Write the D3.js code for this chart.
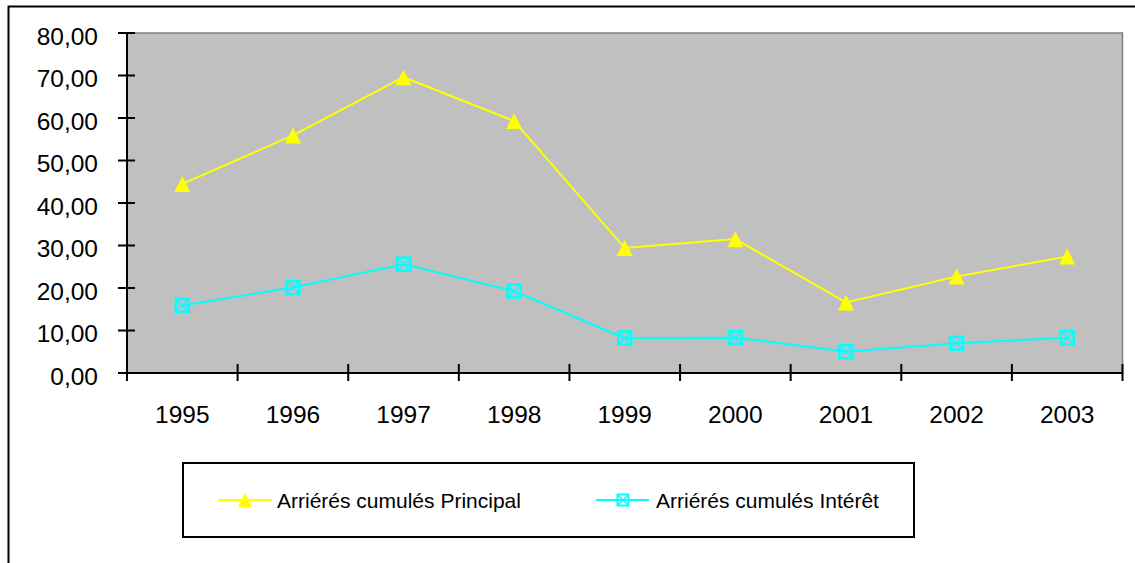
<!DOCTYPE html>
<html lang="fr">
<head>
<meta charset="utf-8">
<title>Arriérés cumulés</title>
<script src="https://cdn.jsdelivr.net/npm/d3@7"></script>
<style>
  html, body { margin: 0; padding: 0; background: #fff; }
  svg { display: block; font-family: "Liberation Sans", Arial, sans-serif; }
</style>
</head>
<body>
<script>
// data
const years = ["1995", "1996", "1997", "1998", "1999", "2000", "2001", "2002", "2003"];
const principal = [44.5, 55.9, 69.6, 59.3, 29.4, 31.5, 16.6, 22.7, 27.4];
const interet = [15.9, 20.1, 25.6, 19.3, 8.2, 8.3, 5.0, 7.0, 8.3];
const yTicks = [0, 10, 20, 30, 40, 50, 60, 70, 80];
const seriesNames = ["Arriérés cumulés Principal", "Arriérés cumulés Intérêt"];

const w = 1135, h = 563;
const plotL = 127, plotR = 1122.5, plotT = 33, plotB = 373;

const svg = d3.select("body").append("svg")
  .attr("width", w)
  .attr("height", h);

// outer chart border
svg.append("rect")
  .attr("x", 8.5).attr("y", 6.5)
  .attr("width", w + 20).attr("height", h + 20)
  .attr("fill", "#fff")
  .attr("stroke", "#000")
  .attr("stroke-width", 2);

const x = d3.scaleBand().domain(years).range([plotL, plotR]).padding(0);
const y = d3.scaleLinear().domain([0, 80]).range([plotB, plotT]);
const cx = d => x(d) + x.bandwidth() / 2;

// plot area
svg.append("rect")
  .attr("x", plotL).attr("y", plotT)
  .attr("width", plotR - plotL).attr("height", plotB - plotT)
  .attr("fill", "#c0c0c0")
  .attr("stroke", "#808080")
  .attr("stroke-width", 1.5);

// y axis
svg.append("line")
  .attr("x1", plotL).attr("x2", plotL).attr("y1", plotT).attr("y2", plotB)
  .attr("stroke", "#000").attr("stroke-width", 2);
const yg = svg.append("g");
yg.selectAll("line").data(yTicks).join("line")
  .attr("x1", plotL - 9).attr("x2", plotL + 8)
  .attr("y1", d => y(d)).attr("y2", d => y(d))
  .attr("stroke", "#000").attr("stroke-width", 2);
yg.selectAll("text").data(yTicks).join("text")
  .attr("x", 98)
  .attr("y", d => y(d) + 11.5)
  .attr("text-anchor", "end")
  .attr("font-size", 24.5)
  .text(d => d.toFixed(2).replace(".", ","));

// x axis
svg.append("line")
  .attr("x1", plotL).attr("x2", plotR).attr("y1", plotB).attr("y2", plotB)
  .attr("stroke", "#000").attr("stroke-width", 2);
const xg = svg.append("g");
const edges = years.map(d => x(d)).concat([x(years[years.length - 1]) + x.bandwidth()]);
xg.selectAll("line").data(edges).join("line")
  .attr("x1", d => d).attr("x2", d => d)
  .attr("y1", plotB - 9).attr("y2", plotB + 8)
  .attr("stroke", "#000").attr("stroke-width", 2);
xg.selectAll("text").data(years).join("text")
  .attr("x", d => cx(d))
  .attr("y", 423)
  .attr("text-anchor", "middle")
  .attr("font-size", 24.5)
  .text(d => d);

const line = d3.line().x((d, i) => cx(years[i])).y(d => y(d));

function triangle(g, px, py, s) {
  g.append("path")
    .attr("d", `M${px},${py - s / 2}L${px + s / 2},${py + s / 2}L${px - s / 2},${py + s / 2}Z`)
    .attr("fill", "#ffff00");
}
function xsquare(g, px, py, s, sw) {
  const r = s / 2;
  g.append("rect")
    .attr("x", px - r).attr("y", py - r).attr("width", s).attr("height", s)
    .attr("fill", "none").attr("stroke", "#00ffff").attr("stroke-width", sw);
  g.append("path")
    .attr("d", `M${px - r},${py - r}L${px + r},${py + r}M${px + r},${py - r}L${px - r},${py + r}`)
    .attr("stroke", "#00ffff").attr("stroke-width", 1.5);
}

// series lines
svg.append("path").datum(principal)
  .attr("d", line).attr("fill", "none")
  .attr("stroke", "#ffff00").attr("stroke-width", 2);
svg.append("path").datum(interet)
  .attr("d", line).attr("fill", "none")
  .attr("stroke", "#00ffff").attr("stroke-width", 2);

const mk = svg.append("g");
principal.forEach((v, i) => triangle(mk, cx(years[i]), y(v), 16));
interet.forEach((v, i) => xsquare(mk, cx(years[i]), y(v), 13, 2.5));

// legend
const lg = svg.append("g");
lg.append("rect")
  .attr("x", 183).attr("y", 463)
  .attr("width", 731).attr("height", 74)
  .attr("fill", "#fff").attr("stroke", "#000").attr("stroke-width", 2);

lg.append("line").attr("x1", 218).attr("x2", 272).attr("y1", 500).attr("y2", 500)
  .attr("stroke", "#ffff00").attr("stroke-width", 2);
triangle(lg, 245, 500, 14);
lg.append("text").attr("x", 277).attr("y", 508)
  .attr("font-size", 21).text(seriesNames[0]);

lg.append("line").attr("x1", 596).attr("x2", 649).attr("y1", 500).attr("y2", 500)
  .attr("stroke", "#00ffff").attr("stroke-width", 2);
xsquare(lg, 623, 500, 11, 2);
lg.append("text").attr("x", 656).attr("y", 508)
  .attr("font-size", 21).text(seriesNames[1]);
</script>
</body>
</html>
